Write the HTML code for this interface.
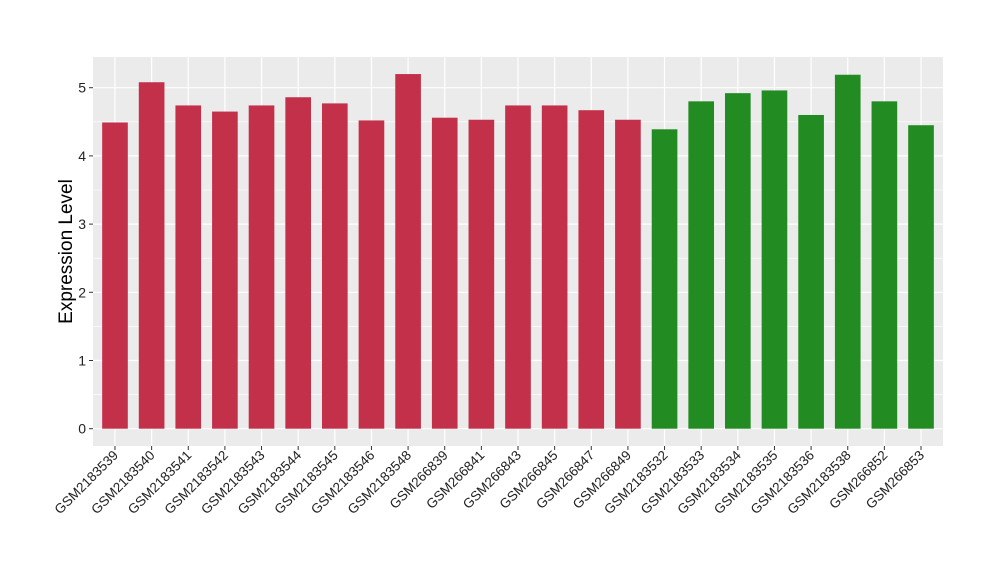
<!DOCTYPE html>
<html><head><meta charset="utf-8"><style>body{margin:0;background:#fff}svg{display:block;font-family:"Liberation Sans",sans-serif}</style></head>
<body>
<svg id="chart" width="1000" height="580" viewBox="0 0 1000 580"></svg>
<script>
const categories=["GSM2183539","GSM2183540","GSM2183541","GSM2183542","GSM2183543","GSM2183544","GSM2183545","GSM2183546","GSM2183548","GSM266839","GSM266841","GSM266843","GSM266845","GSM266847","GSM266849","GSM2183532","GSM2183533","GSM2183534","GSM2183535","GSM2183536","GSM2183538","GSM266852","GSM266853"];
const values=[4.49,5.08,4.74,4.65,4.74,4.86,4.77,4.52,5.2,4.56,4.53,4.74,4.74,4.67,4.53,4.39,4.8,4.92,4.96,4.6,5.19,4.8,4.45];
const groups=["a","a","a","a","a","a","a","a","a","a","a","a","a","a","a","b","b","b","b","b","b","b","b"];
const yTicks=[0,1,2,3,4,5];
const colors={a:"#c3304a",b:"#228b22"};
const ns="http://www.w3.org/2000/svg",svg=document.getElementById("chart");
const L=93,R=943,T=57,B=446,y0=428.7,pxu=68.2;
const y=v=>y0-v*pxu;
const step=(R-L)/(categories.length+0.2);
const x=i=>L+step*0.6+i*step;
const bw=step*0.7;
function mk(t,a,p){const e=document.createElementNS(ns,t);for(const k in a)e.setAttribute(k,a[k]);(p||svg).appendChild(e);return e;}
const panel=mk("rect",{x:L,y:T,width:R-L,height:B-T,fill:"#ebebeb"});


for(let v=0.5;v<5.5;v+=1){const g=mk("line",{x1:L,x2:R,y1:y(v),y2:y(v),stroke:"#fff","stroke-width":0.6});

}
yTicks.forEach(v=>{const g=mk("line",{x1:L,x2:R,y1:y(v),y2:y(v),stroke:"#fff","stroke-width":1.2});


const tk=mk("line",{x1:L-4,x2:L,y1:y(v),y2:y(v),stroke:"#333","stroke-width":1});


const t=mk("text",{x:L-7,y:y(v)+5,"text-anchor":"end","font-size":14,fill:"#222"});t.textContent=v;

});
categories.forEach((c,i)=>{const g=mk("line",{x1:x(i),x2:x(i),y1:T,y2:B,stroke:"#fff","stroke-width":1.2});

});
categories.forEach((c,i)=>{const b=mk("rect",{x:x(i)-bw/2,y:y(values[i]),width:bw,height:y(0)-y(values[i]),fill:colors[groups[i]]});


const tk=mk("line",{x1:x(i),x2:x(i),y1:B,y2:B+4,stroke:"#333","stroke-width":1});


const t=mk("text",{x:x(i)+4,y:B+10,"text-anchor":"end","font-size":13.5,fill:"#222",transform:`rotate(-45 ${x(i)+4} ${B+10})`});t.textContent=c;

});
const yt=mk("text",{x:72,y:(T+B)/2,"text-anchor":"middle","font-size":19,fill:"#000",transform:`rotate(-90 72 ${(T+B)/2})`});yt.textContent="Expression Level";


</script>
</body></html>
